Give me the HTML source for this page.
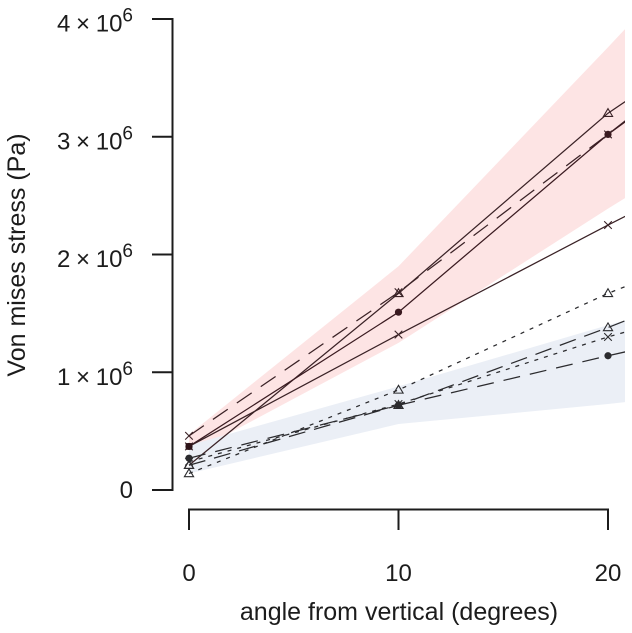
<!DOCTYPE html>
<html>
<head>
<meta charset="utf-8">
<style>
html,body{margin:0;padding:0;background:#fff}
svg{display:block;font-family:"Liberation Sans",sans-serif;fill:#1c1c1c;filter:blur(0.35px)}
</style>
</head>
<body>
<svg id="chart" width="632" height="633" viewBox="0 0 632 633" xmlns="http://www.w3.org/2000/svg">
<defs><clipPath id="plot-clip"><rect x="172" y="0" width="453" height="633"/></clipPath></defs>
<g id="bands" clip-path="url(#plot-clip)"></g>
<g id="lines" clip-path="url(#plot-clip)"></g>
<g id="markers"></g>
<g id="axes"></g>
<text x="399" y="620" font-size="25" text-anchor="middle">angle from vertical (degrees)</text>
<text transform="translate(25,255) rotate(-90)" font-size="25" text-anchor="middle">Von mises stress (Pa)</text>
</svg>
<script>
var angles = [0, 10, 20, 21];
var xTicks = [0, 10, 20];
var yTicks = [0, 1, 2, 3, 4];

var redUpper = [0.47, 1.90, 3.76, 3.95];
var redLower = [0.30, 1.25, 2.39, 2.50];
var blueUpper = [0.38, 0.88, 1.40, 1.45];
var blueLower = [0.14, 0.56, 0.73, 0.75];

var redTriangle = [0.21, 1.67, 3.20, 3.32];
var redCircle = [0.37, 1.51, 3.02, 3.15];
var redCross = [0.37, 1.32, 2.25, 2.34];
var redDashed = [0.46, 1.68, 3.02, 3.16];
var blueDotTriangle = [0.14, 0.85, 1.67, 1.74];
var blueDashTriangle = [0.21, 0.72, 1.38, 1.45];
var blueDotCross = [0.24, 0.73, 1.30, 1.35];
var blueDashCircle = [0.27, 0.72, 1.14, 1.18];

function sx(a) { return 189 + a * 20.95; }
function sy(v) { return 490 - v * 117.75; }
var NS = 'http://www.w3.org/2000/svg';
function mk(tag, parent, attrs) {
  var e = document.createElementNS(NS, tag);
  for (var k in attrs) e.setAttribute(k, attrs[k]);
  parent.appendChild(e);
  return e;
}
var bandsG = document.getElementById('bands');
var linesG = document.getElementById('lines');
var markersG = document.getElementById('markers');
var axesG = document.getElementById('axes');

function band(upper, lower, color, name) {
  var pts = [];
  for (var i = 0; i < angles.length; i++) pts.push(sx(angles[i]) + ',' + sy(upper[i]));
  for (var j = angles.length - 1; j >= 0; j--) pts.push(sx(angles[j]) + ',' + sy(lower[j]));
  var p = mk('polygon', bandsG, { points: pts.join(' '), fill: color });
  
  
}
band(redUpper, redLower, '#fde4e4', 'red-band');
band(blueUpper, blueLower, '#ebeff6', 'blue-band');

function series(vals, dash, marker, color, name) {
  var pts = [];
  for (var i = 0; i < angles.length; i++) pts.push(sx(angles[i]) + ',' + sy(vals[i]));
  var l = mk('polyline', linesG, { points: pts.join(' '), fill: 'none', stroke: color, 'stroke-width': 1.25 });
  if (dash) l.setAttribute('stroke-dasharray', dash);
  
  
  for (var m = 0; m < xTicks.length; m++) {
    var x = sx(angles[m]), y = sy(vals[m]), e;
    if (marker === 'circle') {
      e = mk('circle', markersG, { cx: x, cy: y, r: 3.6, fill: color });
    } else if (marker === 'triangle') {
      e = mk('polygon', markersG, { points: x + ',' + (y - 4.6) + ' ' + (x + 4.6) + ',' + (y + 3.2) + ' ' + (x - 4.6) + ',' + (y + 3.2), fill: 'none', stroke: color, 'stroke-width': 1.1 });
    } else {
      e = mk('path', markersG, { d: 'M' + (x - 3.8) + ' ' + (y - 3.8) + 'L' + (x + 3.8) + ' ' + (y + 3.8) + 'M' + (x - 3.8) + ' ' + (y + 3.8) + 'L' + (x + 3.8) + ' ' + (y - 3.8), fill: 'none', stroke: color, 'stroke-width': 1.1 });
    }
    
    
  }
}
series(redDashed, '18 11', 'cross', '#3a2226', 'red-dashed');
series(redTriangle, '', 'triangle', '#3a2226', 'red-triangle');
series(redCircle, '', 'circle', '#3a1a20', 'red-circle');
series(redCross, '', 'cross', '#3a2226', 'red-cross');
series(blueDotTriangle, '4 6', 'triangle', '#2b2b2e', 'blue-dotted-triangle');
series(blueDashTriangle, '17 9', 'triangle', '#2b2b2e', 'blue-dashed-triangle');
series(blueDotCross, '4 6', 'cross', '#2b2b2e', 'blue-dotted-cross');
series(blueDashCircle, '17 10', 'circle', '#2b2b2e', 'blue-dashed-circle');

var sq = mk('rect', markersG, { x: sx(angles[0]) - 3.3, y: sy(redCircle[0]) - 3.3, width: 6.6, height: 6.6, fill: '#2e1418' });



var AX = '#1c1c1c';
var yAxis = mk('line', axesG, { x1: 172.5, x2: 172.5, y1: sy(yTicks[yTicks.length - 1]) - 1, y2: sy(yTicks[0]) + 1, stroke: AX, 'stroke-width': 2 });


yTicks.forEach(function (v) {
  var t = mk('line', axesG, { x1: 152, x2: 173, y1: sy(v), y2: sy(v), stroke: AX, 'stroke-width': 2 });
  
  
  var lab = mk('text', axesG, { x: 133, y: sy(v) + (v === 0 ? 8 : 12.5), 'font-size': 24, 'text-anchor': 'end', 'word-spacing': -1 });
  
  
  if (v === 0) {
    lab.textContent = '0';
  } else {
    lab.textContent = v + ' \u00D7 10';
    var sup = mk('tspan', lab, { dy: -10, 'font-size': 19 });
    sup.textContent = '6';
  }
});
var xAxis = mk('line', axesG, { x1: sx(xTicks[0]) - 1, x2: sx(xTicks[xTicks.length - 1]) + 1, y1: 509.5, y2: 509.5, stroke: AX, 'stroke-width': 2 });


xTicks.forEach(function (a) {
  var t = mk('line', axesG, { x1: sx(a), x2: sx(a), y1: 509, y2: 530, stroke: AX, 'stroke-width': 2 });
  
  
  var lab = mk('text', axesG, { x: sx(a), y: 581, 'font-size': 24, 'text-anchor': 'middle' });
  
  
  lab.textContent = a;
});
</script>
</body>
</html>
